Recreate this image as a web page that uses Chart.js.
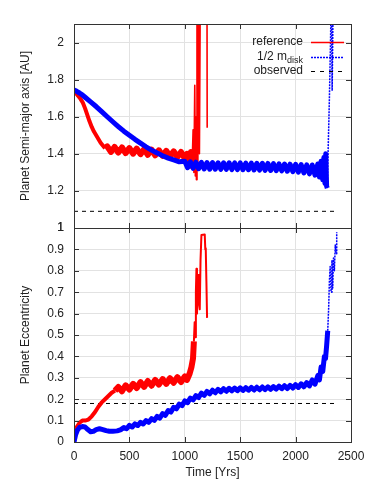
<!DOCTYPE html>
<html>
<head>
<meta charset="utf-8">
<script src="https://cdn.jsdelivr.net/npm/chart.js@4.4.0/dist/chart.umd.min.js"></script>
<style>
  html, body { margin: 0; padding: 0; background: #fff; }
  #wrap { width: 374px; height: 486px; }
</style>
</head>
<body>
<div id="wrap"><canvas id="planet-chart" width="374" height="486"></canvas></div>
<script>
// axis ticks
const timeTicks = [0, 500, 1000, 1500, 2000, 2500];
const semiTicks = [1, 1.2, 1.4, 1.6, 1.8, 2];
const eccTicks = [0, 0.1, 0.2, 0.3, 0.4, 0.5, 0.6, 0.7, 0.8, 0.9, 1];

// reference run, semi-major axis
const refTimeA = [0, 20, 40, 60, 80, 100, 120, 140, 160, 180, 200, 220, 240, 260, 280,
  300, 333, 366, 400, 433, 466, 500, 533, 566, 600, 633, 666, 700, 733, 766, 800, 833, 866, 900, 933, 966, 1000,
  1020, 1040, 1055, 1065, 1075, 1082, 1090, 1095, 1100, 1105, 1110, 1118, 1125, 1132, 1140, 1150, 1190, 1200, 1202];
const refSemi = [1.735, 1.725, 1.71, 1.695, 1.675, 1.645, 1.61, 1.575, 1.545, 1.52, 1.50, 1.48, 1.46, 1.445, 1.43,
  1.44, 1.41, 1.437, 1.407, 1.434, 1.404, 1.431, 1.401, 1.428, 1.398, 1.425, 1.395, 1.422, 1.392, 1.419, 1.389, 1.416, 1.386, 1.413, 1.383, 1.41, 1.375,
  1.40, 1.34, 1.41, 1.32, 1.53, 1.30, 1.77, 1.28, 1.60, 1.26, 2.3, 1.35, 2.3, 1.40, 2.3, 2.4, 2.4, 2.4, 1.54];

// half disk mass run, semi-major axis
const halfTimeA = [0, 25, 50, 75, 100, 150, 200, 250, 300, 350, 400, 450, 500, 550, 600, 650, 700, 750, 800, 850, 900, 950,
  1000, 1025, 1050, 1075, 1100, 1125, 1150, 1175, 1200, 1225, 1250, 1275, 1300, 1325, 1350, 1375, 1400, 1425,
  1450, 1475, 1500, 1525, 1550, 1575, 1600, 1625, 1650, 1675, 1700, 1725, 1750, 1775, 1800, 1825, 1850, 1875,
  1900, 1925, 1950, 1975, 2000, 2025, 2050, 2075, 2100, 2125, 2150, 2175, 2200,
  2215, 2230, 2245, 2255, 2265, 2272, 2280, 2286, 2295, 2305, 2315, 2322, 2330, 2340];
const halfSemi = [1.745, 1.737, 1.728, 1.718, 1.705, 1.68, 1.655, 1.628, 1.60, 1.573, 1.547, 1.522, 1.50, 1.478, 1.458, 1.438, 1.42, 1.404, 1.39, 1.377, 1.367, 1.357,
  1.36, 1.325, 1.357, 1.322, 1.355, 1.32, 1.354, 1.318, 1.353, 1.317, 1.353, 1.317, 1.352, 1.316, 1.352, 1.316, 1.352, 1.315,
  1.351, 1.315, 1.351, 1.314, 1.35, 1.314, 1.35, 1.313, 1.349, 1.312, 1.349, 1.311, 1.348, 1.31, 1.347, 1.309, 1.346, 1.308,
  1.345, 1.306, 1.344, 1.304, 1.343, 1.301, 1.342, 1.297, 1.34, 1.292, 1.34, 1.285, 1.345,
  1.275, 1.36, 1.26, 1.38, 1.24, 1.40, 1.225, 1.215, 1.45, 1.70, 2.0, 2.3, 1.74, 2.3];

// reference run, eccentricity
const refTimeE = [0, 10, 25, 50, 75, 100, 130, 160, 190, 220, 250, 280, 310, 340, 370,
  400, 433, 466, 500, 533, 566, 600, 633, 666, 700, 733, 766, 800, 833, 866, 900, 933, 966, 1000,
  1020, 1044, 1060, 1074, 1082, 1089, 1093, 1100, 1105, 1110, 1120, 1128, 1135, 1142, 1150, 1180, 1185, 1189, 1195, 1201];
const refEcc = [0, 0.04, 0.07, 0.09, 0.10, 0.10, 0.105, 0.12, 0.14, 0.165, 0.185, 0.20, 0.215, 0.23, 0.24,
  0.257, 0.237, 0.265, 0.245, 0.272, 0.252, 0.28, 0.258, 0.285, 0.263, 0.29, 0.268, 0.294, 0.272, 0.298, 0.277, 0.303, 0.28, 0.307,
  0.29, 0.32, 0.35, 0.39, 0.47, 0.56, 0.49, 0.70, 0.81, 0.60, 0.78, 0.65, 0.62, 0.85, 0.967, 0.97, 0.90, 0.905, 0.75, 0.58];

// half disk mass run, eccentricity
const halfTimeE = [0, 15, 30, 50, 75, 100, 125, 150, 175, 200, 230, 260, 290, 320, 350, 390, 425,
  450, 475, 500, 525, 550, 575, 600, 625, 650, 675, 700, 725, 750, 775, 800, 825, 850, 875, 900, 925, 950, 975,
  1000, 1025, 1050, 1075, 1100, 1125, 1150, 1175, 1200, 1225, 1250, 1275, 1300, 1325, 1350, 1375, 1400, 1425,
  1450, 1475, 1500, 1525, 1550, 1575, 1600, 1625, 1650, 1675, 1700, 1725, 1750, 1775, 1800, 1825, 1850, 1875,
  1900, 1925, 1950, 1975, 2000, 2025, 2050, 2075, 2100, 2125, 2150, 2175, 2200,
  2215, 2230, 2245, 2260, 2270, 2280, 2290, 2298, 2305, 2312, 2320, 2328, 2335, 2342, 2350, 2358, 2365, 2371];
const halfEcc = [0, 0.035, 0.055, 0.068, 0.072, 0.07, 0.058, 0.048, 0.05, 0.058, 0.062, 0.058, 0.053, 0.05, 0.05, 0.052, 0.058,
  0.068, 0.062, 0.078, 0.07, 0.085, 0.077, 0.092, 0.084, 0.1, 0.092, 0.109, 0.101, 0.12, 0.112, 0.133, 0.125, 0.147, 0.14, 0.162, 0.155, 0.177, 0.17,
  0.192, 0.184, 0.205, 0.197, 0.217, 0.208, 0.228, 0.218, 0.236, 0.225, 0.242, 0.23, 0.246, 0.234, 0.249, 0.237, 0.251, 0.239,
  0.252, 0.24, 0.253, 0.241, 0.254, 0.242, 0.255, 0.243, 0.256, 0.244, 0.257, 0.245, 0.258, 0.246, 0.259, 0.247, 0.261, 0.249,
  0.263, 0.25, 0.265, 0.252, 0.268, 0.255, 0.272, 0.258, 0.278, 0.262, 0.29, 0.27, 0.31,
  0.29, 0.35, 0.33, 0.40, 0.39, 0.45, 0.52, 0.62, 0.75, 0.82, 0.70, 0.85, 0.72, 0.86, 0.80, 0.92, 0.88, 0.98];

// observed values
const obsTime = [0, 2380];
const obsSemi = [1.09, 1.09];
const obsEcc = [0.18, 0.18];

const FONT = 'Liberation Sans, Arial, Helvetica, sans-serif';

const PlanetChart = {
  chart: null,

  init() {
    const canvas = document.getElementById('planet-chart');
    if (!canvas) return;

    Chart.defaults.font.family = FONT;
    Chart.defaults.font.size = 12;
    Chart.defaults.color = '#222';

    const pts = (xs, ys) => xs.map((x, i) => ({ x, y: ys[i] }));
    // line width by time range: [from, width] pairs, last match wins
    const widthBy = steps => c => {
      let w;
      steps.forEach(([from, width]) => { if (c.p0.parsed.x >= from) w = width; });
      return w;
    };
    const dashAfter = (limit, d) => c => (c.p0.parsed.x >= limit ? d : undefined);

    this.chart = new Chart(canvas.getContext('2d'), {
      type: 'scatter',
      data: {
        datasets: [
          { data: pts(halfTimeA, halfSemi), yAxisID: 'yA', borderColor: '#0000ff', borderWidth: 5, order: 0,
            segment: { borderWidth: widthBy([[2286, 1.5]]), borderDash: dashAfter(2286, [2, 1]) } },
          { data: pts(halfTimeE, halfEcc), yAxisID: 'yE', borderColor: '#0000ff', borderWidth: 5, order: 0,
            segment: { borderWidth: widthBy([[2290, 1.5]]), borderDash: dashAfter(2290, [2, 1]) } },
          { data: pts(refTimeA, refSemi), yAxisID: 'yA', borderColor: '#ff0000', borderWidth: 4, order: 1,
            segment: { borderWidth: widthBy([[280, 6], [1065, 1.6]]) } },
          { data: pts(refTimeE, refEcc), yAxisID: 'yE', borderColor: '#ff0000', borderWidth: 4, order: 1,
            segment: { borderWidth: widthBy([[370, 6], [1082, 2]]) } },
          { data: pts(obsTime, obsSemi), yAxisID: 'yA', borderColor: '#000', borderWidth: 1, borderDash: [4, 4], order: 2 },
          { data: pts(obsTime, obsEcc), yAxisID: 'yE', borderColor: '#000', borderWidth: 1, borderDash: [4, 4], order: 2 }
        ].map(d => Object.assign({ showLine: true, pointRadius: 0, tension: 0, borderJoinStyle: 'round' }, d))
      },
      options: {
        responsive: false,
        animation: false,
        devicePixelRatio: 1,
        layout: { padding: { top: 24, right: 23, left: 0, bottom: 0 } },
        plugins: {
          legend: { display: false },
          tooltip: { enabled: false }
        },
        scales: {
          x: {
            type: 'linear',
            min: 0,
            max: 2500,
            afterBuildTicks: s => { s.ticks = timeTicks.map(v => ({ value: v })); },
            afterFit: s => { s.height = 44; },
            grid: { color: '#e2e2e2', drawTicks: false },
            border: { display: false },
            ticks: { padding: 7, autoSkip: false, maxRotation: 0, callback: v => String(v) },
            title: { display: true, text: 'Time [Yrs]', padding: { top: 0, bottom: 6 } }
          },
          yE: {
            type: 'linear',
            position: 'left',
            stack: 'panels',
            stackWeight: 214,
            min: 0,
            max: 1,
            afterBuildTicks: s => { s.ticks = eccTicks.map(v => ({ value: v })); },
            afterFit: s => { s.width = 74; },
            grid: { color: '#e2e2e2', drawTicks: false },
            border: { display: false },
            ticks: { padding: 10, autoSkip: false, callback: v => String(+v.toFixed(2)) },
            title: { display: true, text: 'Planet Eccentricity', padding: { top: 18, bottom: 0 } }
          },
          yA: {
            type: 'linear',
            position: 'left',
            stack: 'panels',
            stackWeight: 204,
            min: 1,
            max: 2.1,
            afterBuildTicks: s => { s.ticks = semiTicks.map(v => ({ value: v })); },
            afterFit: s => { s.width = 74; },
            grid: { color: '#e2e2e2', drawTicks: false },
            border: { display: false },
            ticks: { padding: 10, autoSkip: false, callback: v => String(+v.toFixed(2)) },
            title: { display: true, text: 'Planet Semi-major axis [AU]', padding: { top: 18, bottom: 0 } }
          }
        }
      },
      plugins: [this.framePlugin()]
    });
  },

  // gnuplot-like frame with inward ticks on all sides, plus the key in the top panel
  framePlugin() {
    return {
      id: 'gnuplotFrame',
      afterDraw(chart) {
        const { ctx, scales } = chart;
        const x = scales.x;
        ctx.save();
        ctx.strokeStyle = '#333';
        ctx.lineWidth = 1;
        [scales.yA, scales.yE].forEach(y => {
          ctx.strokeRect(Math.round(x.left) + 0.5, Math.round(y.top) + 0.5,
            Math.round(x.right - x.left), Math.round(y.bottom - y.top));
          ctx.beginPath();
          y.ticks.forEach(t => {
            const py = Math.round(y.getPixelForValue(t.value)) + 0.5;
            ctx.moveTo(x.left, py); ctx.lineTo(x.left + 5, py);
            ctx.moveTo(x.right, py); ctx.lineTo(x.right - 5, py);
          });
          x.ticks.forEach(t => {
            const px = Math.round(x.getPixelForValue(t.value)) + 0.5;
            ctx.moveTo(px, y.top); ctx.lineTo(px, y.top + 5);
            ctx.moveTo(px, y.bottom); ctx.lineTo(px, y.bottom - 5);
          });
          ctx.stroke();
        });

        // key
        const top = scales.yA.top;
        const textRight = x.right - 48;
        const lineLeft = x.right - 40;
        const lineRight = x.right - 7;
        const rows = [top + 18, top + 32.5, top + 47];
        ctx.fillStyle = '#222';
        ctx.textAlign = 'right';
        ctx.textBaseline = 'middle';
        ctx.font = '12px ' + FONT;
        ctx.fillText('reference', textRight, rows[0]);
        ctx.fillText('observed', textRight, rows[2]);
        ctx.font = '9px ' + FONT;
        const subW = ctx.measureText('disk').width;
        ctx.fillText('disk', textRight, rows[1] + 4);
        ctx.font = '12px ' + FONT;
        ctx.fillText('1/2 m', textRight - subW, rows[1]);

        const sample = (yy, color, width, dash) => {
          ctx.beginPath();
          ctx.strokeStyle = color;
          ctx.lineWidth = width;
          ctx.setLineDash(dash);
          ctx.moveTo(lineLeft, yy);
          ctx.lineTo(lineRight, yy);
          ctx.stroke();
        };
        sample(Math.round(rows[0]) + 0.5, '#ff0000', 1.5, []);
        sample(Math.round(rows[1]) + 0.5, '#0000ff', 1.5, [2, 1]);
        sample(Math.round(rows[2]) + 0.5, '#000', 1, [4, 5]);
        ctx.restore();
      }
    };
  }
};

window.addEventListener('load', () => {
  PlanetChart.init();
});

window.PlanetChart = PlanetChart;
</script>
</body>
</html>
